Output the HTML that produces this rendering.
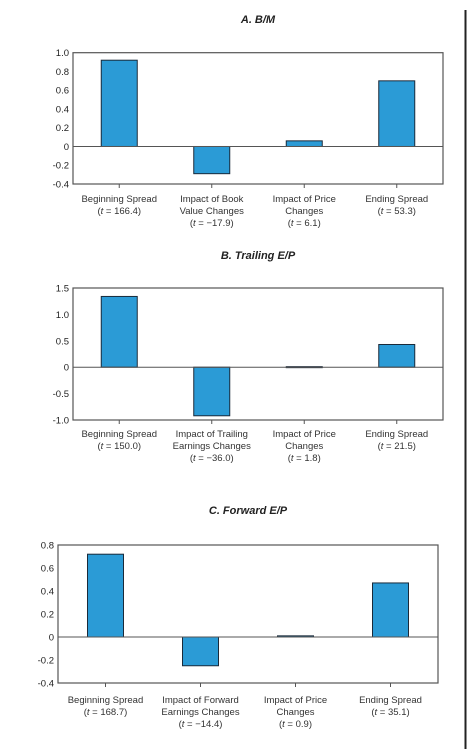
<!DOCTYPE html>
<html><head><meta charset="utf-8"><style>
html,body{margin:0;padding:0;background:#fff;}
svg{display:block;font-family:"Liberation Sans",sans-serif;}
</style></head><body>
<svg id="s" width="468" height="749" viewBox="0 0 468 749" xmlns="http://www.w3.org/2000/svg">
<line x1="465.5" y1="10" x2="465.5" y2="749" stroke="#222" stroke-width="2"/>
</svg>
<script>
const titles = ["A. B/M", "B. Trailing E/P", "C. Forward E/P"];
const catsA = [["Beginning Spread","(t = 166.4)"],["Impact of Book","Value Changes","(t = −17.9)"],["Impact of Price","Changes","(t = 6.1)"],["Ending Spread","(t = 53.3)"]];
const catsB = [["Beginning Spread","(t = 150.0)"],["Impact of Trailing","Earnings Changes","(t = −36.0)"],["Impact of Price","Changes","(t = 1.8)"],["Ending Spread","(t = 21.5)"]];
const catsC = [["Beginning Spread","(t = 168.7)"],["Impact of Forward","Earnings Changes","(t = −14.4)"],["Impact of Price","Changes","(t = 0.9)"],["Ending Spread","(t = 35.1)"]];
const valuesA = [0.92, -0.29, 0.06, 0.70];
const valuesB = [1.34, -0.92, 0.01, 0.43];
const valuesC = [0.72, -0.25, 0.01, 0.47];
const ticksA = [1.0, 0.8, 0.6, 0.4, 0.2, 0, -0.2, -0.4];
const tickLabelsA = ["1.0","0.8","0.6","0.4","0.2","0","-0.2","-0.4"];
const ticksB = [1.5, 1.0, 0.5, 0, -0.5, -1.0];
const tickLabelsB = ["1.5","1.0","0.5","0","-0.5","-1.0"];
const ticksC = [0.8, 0.6, 0.4, 0.2, 0, -0.2, -0.4];
const tickLabelsC = ["0.8","0.6","0.4","0.2","0","-0.2","-0.4"];

const svg = document.getElementById('s');
const NS = "http://www.w3.org/2000/svg";
function mk(tag, attrs, parent){const e=document.createElementNS(NS,tag);for(const k in attrs)e.setAttribute(k,attrs[k]);(parent||svg).appendChild(e);return e;}

function panel(id, title, cats, vals, ticks, tickLabels, L){
  const g = mk('g',{});
  
  
  const vmax = ticks[0], vmin = ticks[ticks.length-1];
  const y = v => L.top + (vmax - v) / (vmax - vmin) * (L.bottom - L.top);
  const step = (L.right - L.left) / cats.length;
  const x = i => L.left + step * (i + 0.5);
  const t = mk('text',{x:(L.left+L.right)/2,y:L.titleY,'text-anchor':'middle','font-size':11,'font-weight':'bold','font-style':'italic',fill:'#222'},g);
  t.textContent = title;
  
  
  const box = mk('rect',{x:L.left,y:L.top,width:L.right-L.left,height:L.bottom-L.top,fill:'none',stroke:'#555','stroke-width':1.2},g);
  
  
  ticks.forEach((v,i)=>{
    const tl = mk('text',{x:L.left-4,y:y(v)+3.5,'text-anchor':'end','font-size':9.5,fill:'#222'},g);
    tl.textContent = tickLabels[i];
    
    
  });
  vals.forEach((v,i)=>{
    const y0 = y(0), y1 = y(v);
    const b = mk('rect',{x:x(i)-18,y:Math.min(y0,y1),width:36,height:Math.max(1,Math.abs(y1-y0)),fill:'#2b9bd6',stroke:'#1a2a3a','stroke-width':1},g);
    
    
    mk('line',{x1:x(i),y1:L.bottom,x2:x(i),y2:L.bottom+4,stroke:'#555'},g);
    cats[i].forEach((line,j)=>{
      const c = mk('text',{x:x(i),y:L.labelY+j*12,'text-anchor':'middle','font-size':9.5,fill:'#333'},g);
      if(line.startsWith('(t')){
        c.appendChild(document.createTextNode('('));
        const it = mk('tspan',{'font-style':'italic'},c); it.textContent='t';
        c.appendChild(document.createTextNode(line.slice(2)));
      } else c.textContent = line;
      
      
    });
  });
  const z = mk('line',{x1:L.left,y1:y(0),x2:L.right,y2:y(0),stroke:'#555','stroke-width':1},g);
  
  
}
panel('a', titles[0], catsA, valuesA, ticksA, tickLabelsA, {left:73,right:443,top:52.7,bottom:184,titleY:23,labelY:202});
panel('b', titles[1], catsB, valuesB, ticksB, tickLabelsB, {left:73,right:443,top:288,bottom:420,titleY:259,labelY:437});
panel('c', titles[2], catsC, valuesC, ticksC, tickLabelsC, {left:58,right:438,top:545,bottom:683,titleY:514,labelY:703});
</script>
</body></html>
